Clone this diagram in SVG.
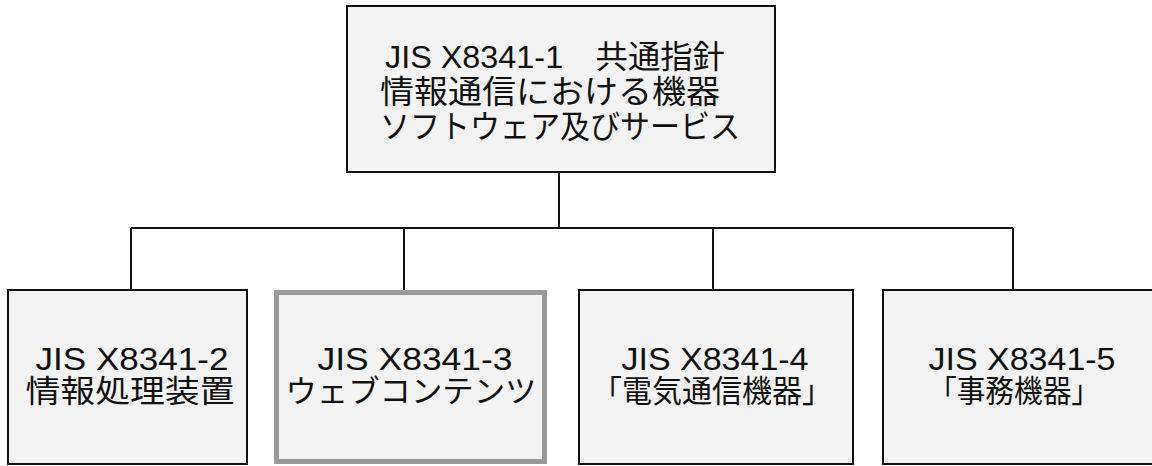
<svg xmlns="http://www.w3.org/2000/svg" width="1152" height="466" viewBox="0 0 1152 466">
<style>
.box{fill:#f3f3f3;stroke:#111;stroke-width:2}
.hl{fill:#f3f3f3;stroke:#9a9a9a;stroke-width:5}
.t{font-family:"Liberation Sans","Noto Sans CJK JP",sans-serif;fill:#111;text-anchor:middle}
.top{font-size:32px}
.lat{font-size:32px}
.jp{font-size:31px}
.conn{stroke:#111;stroke-width:2;fill:none}
</style>
<rect width="1152" height="466" fill="#fff"/>
<g id="connectors">
<path class="conn" d="M559 172V228M131 228H1013M131 228V290M404 228V290M713 228V290M1013 228V290"/>
</g>
<g id="n1">
<rect class="box" x="347" y="6" width="428" height="166"/>
<text class="t top" x="555" y="68" textLength="340" lengthAdjust="spacingAndGlyphs">JIS X8341-1　共通指針</text>
<text class="t top" x="550" y="103" textLength="340" lengthAdjust="spacingAndGlyphs">情報通信における機器</text>
<text class="t top" x="560" y="138" textLength="360" lengthAdjust="spacingAndGlyphs">ソフトウェア及びサービス</text>
</g>
<g id="n2">
<rect class="box" x="8" y="290" width="239" height="174"/>
<text class="t lat" x="132" y="370" textLength="193" lengthAdjust="spacingAndGlyphs">JIS X8341-2</text>
<text class="t jp" x="130" y="402" textLength="209" lengthAdjust="spacingAndGlyphs">情報処理装置</text>
</g>
<g id="n3">
<rect class="hl" x="276.5" y="292.5" width="268" height="169"/>
<text class="t lat" x="415" y="370" textLength="195" lengthAdjust="spacingAndGlyphs">JIS X8341-3</text>
<text class="t jp" x="411" y="402" textLength="251" lengthAdjust="spacingAndGlyphs">ウェブコンテンツ</text>
</g>
<g id="n4">
<rect class="box" x="579" y="290" width="274" height="174"/>
<text class="t lat" x="715" y="370" textLength="187" lengthAdjust="spacingAndGlyphs">JIS X8341-4</text>
<text class="t jp" x="712" y="402" textLength="240" lengthAdjust="spacingAndGlyphs">「電気通信機器」</text>
</g>
<g id="n5">
<rect class="box" x="883" y="290" width="280" height="174"/>
<text class="t lat" x="1022" y="370" textLength="187" lengthAdjust="spacingAndGlyphs">JIS X8341-5</text>
<text class="t jp" x="1014" y="402" textLength="172" lengthAdjust="spacingAndGlyphs">「事務機器」</text>
</g>
</svg>
